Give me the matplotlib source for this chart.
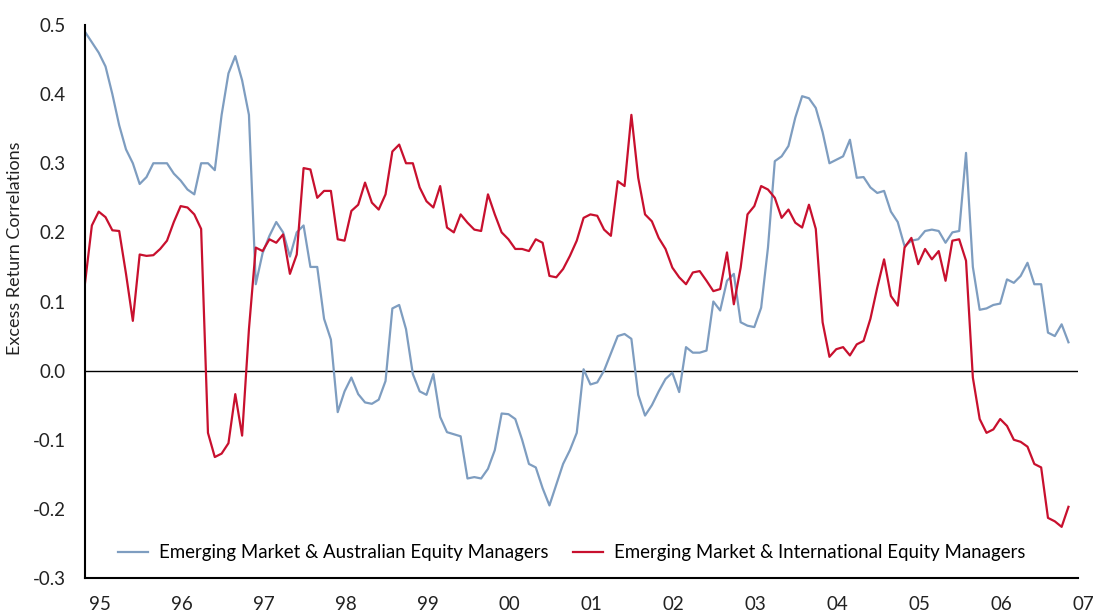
import matplotlib
matplotlib.use("Agg")
import matplotlib.pyplot as plt
import matplotlib.transforms as mtransforms

# monthly excess return correlations, Jan 1995 onwards
aus_corr = [
    0.49, 0.475, 0.46, 0.44, 0.40, 0.355, 0.32, 0.30, 0.27, 0.28, 0.30, 0.30,
    0.30, 0.285, 0.275, 0.262, 0.255, 0.30, 0.30, 0.29, 0.37, 0.43, 0.455, 0.42,
    0.37, 0.125, 0.17, 0.195, 0.215, 0.20, 0.165, 0.20, 0.21, 0.15, 0.15, 0.075,
    0.045, -0.06, -0.03, -0.01, -0.034, -0.046, -0.048, -0.042, -0.015, 0.09, 0.095, 0.06,
    -0.005, -0.03, -0.035, -0.005, -0.067, -0.089, -0.092, -0.095, -0.156, -0.154, -0.156, -0.142,
    -0.115, -0.062, -0.063, -0.07, -0.10, -0.135, -0.14, -0.17, -0.195, -0.165, -0.135, -0.115,
    -0.09, 0.002, -0.02, -0.017, 0.0, 0.025, 0.05, 0.053, 0.046, -0.035, -0.065, -0.05,
    -0.03, -0.012, -0.003, -0.031, 0.034, 0.026, 0.026, 0.029, 0.10, 0.087, 0.13, 0.14,
    0.07, 0.065, 0.063, 0.091, 0.178, 0.303, 0.31, 0.325, 0.366, 0.397, 0.394, 0.38,
    0.345, 0.30, 0.305, 0.31, 0.334, 0.279, 0.28, 0.265, 0.257, 0.26, 0.23, 0.215,
    0.18, 0.188, 0.19, 0.202, 0.204, 0.202, 0.185, 0.20, 0.202, 0.315, 0.15, 0.088,
    0.09, 0.095, 0.097, 0.132, 0.127, 0.137, 0.156, 0.125, 0.125, 0.055, 0.05, 0.067,
    0.041,
]

intl_corr = [
    0.127, 0.21, 0.23, 0.222, 0.203, 0.202, 0.14, 0.072, 0.168, 0.166, 0.167, 0.176,
    0.188, 0.215, 0.238, 0.236, 0.226, 0.205, -0.09, -0.125, -0.12, -0.105, -0.034, -0.094,
    0.06, 0.178, 0.173, 0.19, 0.185, 0.197, 0.14, 0.168, 0.293, 0.291, 0.25, 0.26,
    0.26, 0.19, 0.188, 0.231, 0.24, 0.272, 0.243, 0.233, 0.255, 0.317, 0.327, 0.30,
    0.30, 0.265, 0.245, 0.236, 0.267, 0.207, 0.20, 0.226, 0.214, 0.204, 0.202, 0.255,
    0.226, 0.20, 0.19, 0.176, 0.176, 0.173, 0.19, 0.185, 0.137, 0.135, 0.147, 0.166,
    0.188, 0.221, 0.226, 0.224, 0.204, 0.195, 0.274, 0.267, 0.37, 0.279, 0.226, 0.216,
    0.192, 0.176, 0.149, 0.135, 0.125, 0.142, 0.144, 0.13, 0.115, 0.118, 0.171, 0.096,
    0.149, 0.226, 0.238, 0.267, 0.262, 0.25, 0.221, 0.233, 0.214, 0.207, 0.24, 0.205,
    0.07, 0.02, 0.031, 0.034, 0.022, 0.038, 0.043, 0.075, 0.12, 0.161, 0.108, 0.094,
    0.178, 0.192, 0.154, 0.176, 0.161, 0.173, 0.13, 0.188, 0.19, 0.159, -0.01, -0.07,
    -0.09, -0.085, -0.07, -0.08, -0.10, -0.103, -0.11, -0.135, -0.14, -0.213, -0.218, -0.226,
    -0.197,
]

year_labels = ["95", "96", "97", "98", "99", "00", "01", "02", "03", "04", "05", "06", "07"]
y_ticks = [-0.3, -0.2, -0.1, 0.0, 0.1, 0.2, 0.3, 0.4, 0.5]

months = list(range(len(aus_corr)))

plt.rcParams['font.family'] = ['Lato', 'DejaVu Sans']

fig = plt.figure(figsize=(10.93, 6.14), dpi=100)
ax = fig.add_axes([0.0778, 0.0586, 0.9085, 0.9007])

blue = '#7e9dc0'
red = '#c8102e'

ax.plot(months, aus_corr, color=blue, linewidth=1.6,
        label='Emerging Market & Australian Equity Managers')
ax.plot(months, intl_corr, color=red, linewidth=1.6,
        label='Emerging Market & International Equity Managers')
ax.axhline(0, color='black', linewidth=1.0, zorder=1)

ax.set_xlim(0, 145.4)
ax.set_ylim(-0.3, 0.5)

ax.set_yticks(y_ticks)
ax.set_yticklabels([f"{v:.1f}" for v in y_ticks], fontsize=13.5, color='#222222')
ax.tick_params(axis='y', length=0, pad=14)
ax.set_xticks([])

# year labels sit a little right of each year's first month
trans = mtransforms.blended_transform_factory(ax.transData, ax.transAxes)
for k, lab in enumerate(year_labels):
    ax.text(2.2 + 12 * k, -0.047, lab, transform=trans, ha='center', va='center',
            fontsize=13.5, color='#222222', clip_on=False)

ax.set_ylabel('Excess Return Correlations', fontsize=13, color='#222222')
ax.yaxis.set_label_coords(-0.062, 0.597)

for side in ['top', 'right']:
    ax.spines[side].set_visible(False)
ax.spines['left'].set_linewidth(1.5)
ax.spines['bottom'].set_linewidth(1.5)

ax.legend(loc='lower center', bbox_to_anchor=(0.49, 0.0), ncol=2, frameon=False,
          fontsize=13.4, handlelength=1.6, columnspacing=1.3, handletextpad=0.6)

fig.savefig('out.png', dpi=100)
